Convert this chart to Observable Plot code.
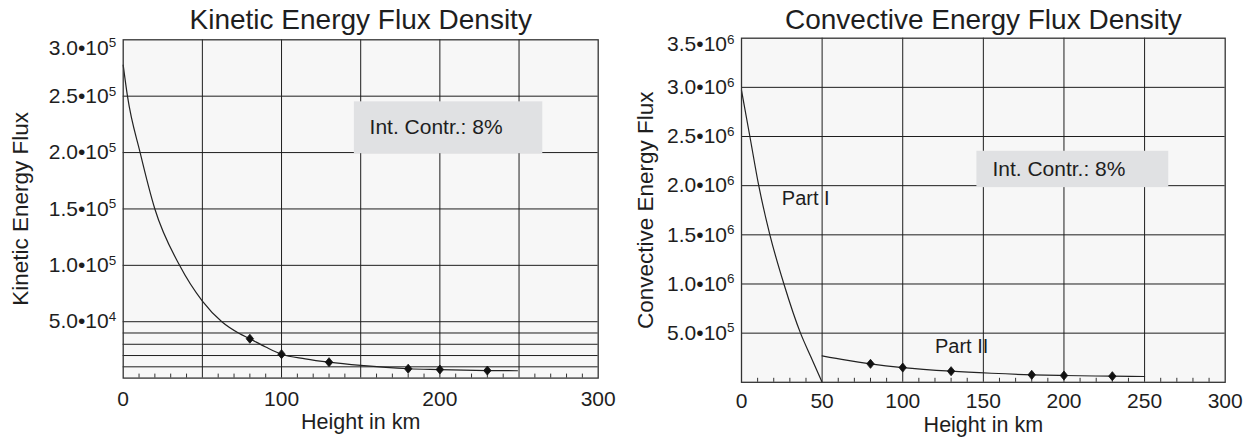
<!DOCTYPE html>
<html><head><meta charset="utf-8">
<script src="https://cdn.jsdelivr.net/npm/d3@7"></script>
<script src="https://cdn.jsdelivr.net/npm/@observablehq/plot@0.6"></script>
<style>
body{margin:0;background:#fff;font-family:"Liberation Sans",Arial,Helvetica,sans-serif}
#wrap{display:flex;width:1253px;height:437px;overflow:hidden}
</style></head><body><div id="wrap"></div>
<script>
// ---- Kinetic energy flux density (left panel) ----
const kinTitle = "Kinetic Energy Flux Density";
const kinYLabel = "Kinetic Energy Flux";
const kinCurveHeight = [0, 2.7, 10.7, 20, 35.6, 50, 62.3, 72.8, 80, 90, 100, 115, 130, 150, 180, 200, 230, 249];
const kinCurveFlux = [277600, 250000, 200000, 150000, 100000, 68300, 50000, 40000, 34900, 27600, 21200, 17100, 14100, 11200, 8300, 7600, 6700, 6500];
const kinPointHeight = [80, 100, 130, 180, 200, 230];
const kinPointFlux = [34900, 21200, 14100, 8300, 7600, 6700];
const kinYTicks = [50000, 100000, 150000, 200000, 250000, 300000];
const kinYTickLabels = ["5.0•10^4", "1.0•10^5", "1.5•10^5", "2.0•10^5", "2.5•10^5", "3.0•10^5"];
const kinYGrid = [10000, 20000, 30000, 40000, 50000, 100000, 150000, 200000, 250000];
const kinXTicks = [0, 100, 200, 300];
const kinBoxY = [199000, 245000];
const kinNoteY = 222000;

// ---- Convective energy flux density (right panel) ----
const convTitle = "Convective Energy Flux Density";
const convYLabel = "Convective Energy Flux";
const convPart1Height = [0, 5.2, 10.7, 17.6, 26.3, 36.6, 43, 50];
const convPart1Flux = [2970000, 2500000, 2000000, 1500000, 1000000, 500000, 260000, 0];
const convPart2Height = [50, 65, 80, 100, 130, 155, 180, 200, 230, 250];
const convPart2Flux = [269000, 225000, 188000, 150000, 113000, 92000, 76000, 69000, 62000, 59000];
const convPointHeight = [80, 100, 130, 180, 200, 230];
const convPointFlux = [188000, 150000, 113000, 76000, 69000, 62000];
const convYTicks = [500000, 1000000, 1500000, 2000000, 2500000, 3000000, 3500000];
const convYTickLabels = ["5.0•10^5", "1.0•10^6", "1.5•10^6", "2.0•10^6", "2.5•10^6", "3.0•10^6", "3.5•10^6"];
const convYGrid = [500000, 1000000, 1500000, 2000000, 2500000, 3000000];
const convXTicks = [0, 50, 100, 150, 200, 250, 300];
const convBoxY = [1980000, 2350000];
const convNoteY = 2170000;
const convPartLabels = ["Part I", "Part II"];
const convPartX = [25, 120];
const convPartY = [1870000, 364000];

// ---- shared ----
const xLabel = "Height in km";
const xGrid = [50, 100, 150, 200, 250];
const xMinor = [10, 20, 30, 40, 60, 70, 80, 90, 110, 120, 130, 140, 160, 170, 180, 190, 210, 220, 230, 240, 260, 270, 280, 290];
const noteText = "Int. Contr.: 8%";
const boxX = [146, 265];
const noteX = 155.6;

const FONT = '"Liberation Sans", Arial, Helvetica, sans-serif';
const INK = "#1e1e1e";

// a squarer diamond than d3's default
const diamond = {
  draw(ctx, size) {
    const r = Math.sqrt(size / 2);
    const w = r * 0.9, h = r * 1.1;
    ctx.moveTo(0, -h); ctx.lineTo(w, 0); ctx.lineTo(0, h); ctx.lineTo(-w, 0); ctx.closePath();
  }
};

function zip(xs, ys) { return xs.map((x, i) => ({x, y: ys[i]})); }

function chart(c) {
  const H = 437;
  const plotH = H - c.mt - c.mb;
  const svg = Plot.plot({
    width: c.width, height: H,
    marginLeft: c.ml, marginRight: c.mr, marginTop: c.mt, marginBottom: c.mb,
    style: {fontFamily: FONT, fontSize: "20px", background: "transparent", color: INK, overflow: "visible"},
    x: {domain: [0, 300]},
    y: {domain: c.yDomain},
    marks: [
      Plot.frame({fill: "#f7f7f7", stroke: null}),
      Plot.ruleX(xGrid, {stroke: INK, strokeWidth: 1}),
      Plot.ruleY(c.yGrid, {stroke: INK, strokeWidth: 1}),
      Plot.ruleX(xMinor, {stroke: "#333", strokeWidth: 1, insetTop: plotH - 4}),
      Plot.rect([{x1: boxX[0], x2: boxX[1], y1: c.boxY[0], y2: c.boxY[1]}], {x1: "x1", x2: "x2", y1: "y1", y2: "y2", fill: "#e0e1e3"}),
      Plot.text([noteText], {x: noteX, y: c.noteY, text: d => d, textAnchor: "start", fontSize: 21, fill: INK}),
      ...c.lines.map(l => Plot.line(l, {x: "x", y: "y", stroke: "#222", strokeWidth: 1.2, curve: "monotone-x"})),
      Plot.dot(c.points, {x: "x", y: "y", symbol: diamond, r: 3.3, fill: "#111", stroke: "#111", strokeWidth: 0.8}),
      ...(c.extraText || []),
      Plot.frame({stroke: "#333", strokeWidth: 1.3}),
      Plot.axisX({ticks: c.xTicks, tickSize: 0, tickPadding: c.xPad, fontSize: 21, label: null, tickFormat: d => String(d)}),
      Plot.axisY({ticks: c.yTicks, tickSize: 0, tickPadding: 7, fontSize: 21, label: null,
        tickFormat: d => c.yTickLabels[c.yTicks.indexOf(d)]}),
      Plot.text([c.title], {frameAnchor: "top", lineAnchor: "middle", dy: c.titleDy, text: d => d, fontSize: 28, fill: INK}),
      Plot.text([xLabel], {frameAnchor: "bottom", lineAnchor: "middle", dy: c.xlabDy, text: d => d, fontSize: 21.5, fill: INK}),
      Plot.text([c.ylabel], {frameAnchor: "left", textAnchor: "middle", lineAnchor: "middle", rotate: -90, dx: c.ylabDx, text: d => d, fontSize: 22.5, fill: INK})
    ]
  });
  // superscript exponents on y tick labels
  const top = c.yTickLabels[c.yTickLabels.length - 1];
  d3.select(svg).selectAll('g[aria-label="y-axis tick label"] text').each(function () {
    const t = this.textContent;
    if (!t.includes("^")) return;
    const [b, e] = t.split("^");
    this.textContent = b;
    d3.select(this).append("tspan").attr("dy", "-0.55em").attr("font-size", "0.64em").text(e);
    if (t === top) {
      this.setAttribute("transform", (this.getAttribute("transform") || "") + ` translate(0,${c.topShift})`);
    }
  });
  return svg;
}

const wrap = document.getElementById("wrap");
wrap.appendChild(chart({
  width: 626, ml: 122.7, mr: 28.3, mt: 39.3, mb: 59.4,
  yDomain: [0, 300000], yGrid: kinYGrid, yTicks: kinYTicks, yTickLabels: kinYTickLabels,
  xTicks: kinXTicks, boxY: kinBoxY, noteY: kinNoteY, xPad: 13,
  lines: [zip(kinCurveHeight, kinCurveFlux)],
  points: zip(kinPointHeight, kinPointFlux),
  title: kinTitle, ylabel: kinYLabel,
  titleDy: -19.8, xlabDy: 44, ylabDx: -102, topShift: 8
}));
wrap.appendChild(chart({
  width: 627, ml: 115, mr: 28.3, mt: 37.7, mb: 55.2,
  yDomain: [0, 3500000], yGrid: convYGrid, yTicks: convYTicks, yTickLabels: convYTickLabels,
  xTicks: convXTicks, boxY: convBoxY, noteY: convNoteY, xPad: 10.5,
  lines: [zip(convPart1Height, convPart1Flux), zip(convPart2Height, convPart2Flux)],
  points: zip(convPointHeight, convPointFlux),
  title: convTitle, ylabel: convYLabel,
  titleDy: -18.2, xlabDy: 42.5, ylabDx: -96, topShift: 6,
  extraText: [Plot.text(convPartLabels, {x: (d, i) => convPartX[i], y: (d, i) => convPartY[i], text: d => d, textAnchor: "start", fontSize: 20, fill: INK})]
}));
</script></body></html>
